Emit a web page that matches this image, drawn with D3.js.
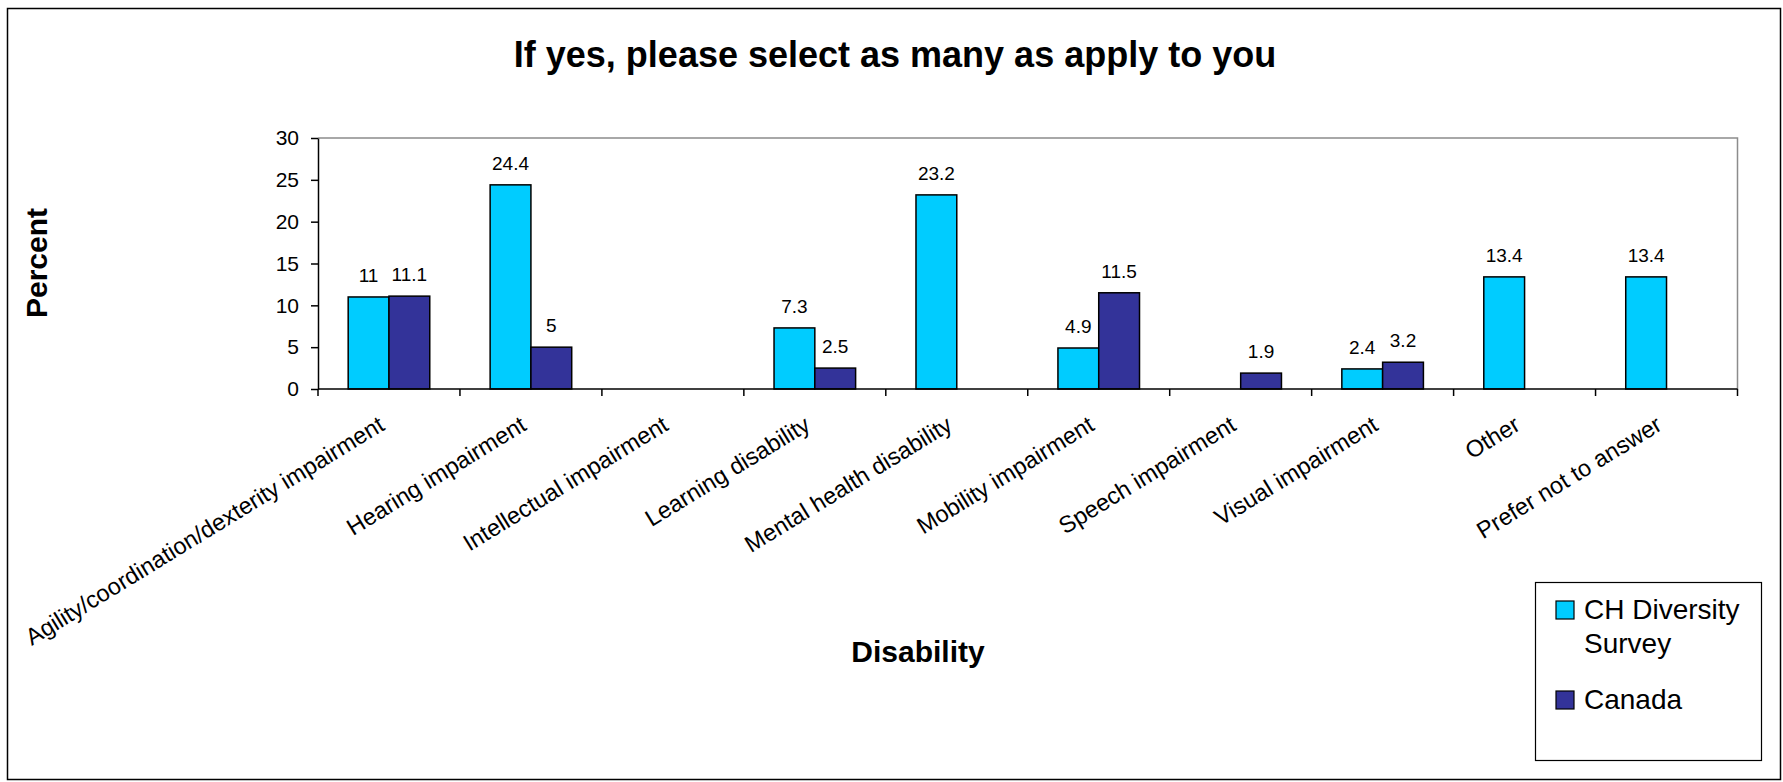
<!DOCTYPE html>
<html>
<head>
<meta charset="utf-8">
<script src="https://cdn.jsdelivr.net/npm/d3@7"></script>
<style>
  html, body { margin: 0; padding: 0; background: #fff; }
  svg { display: block; font-family: "Liberation Sans", Arial, sans-serif; }
</style>
</head>
<body>
<svg id="chart" width="1783" height="782"></svg>
<script>
// Disability categories and the percentages for each series (null = no response value)
const categories = [
  "Agility/coordination/dexterity impairment",
  "Hearing impairment",
  "Intellectual impairment",
  "Learning disability",
  "Mental health disability",
  "Mobility impairment",
  "Speech impairment",
  "Visual impairment",
  "Other",
  "Prefer not to answer"
];
const seriesNames = ["CH Diversity Survey", "Canada"];
const chSurvey = [11, 24.4, null, 7.3, 23.2, 4.9, null, 2.4, 13.4, 13.4];
const canada   = [11.1, 5, null, 2.5, null, 11.5, 1.9, 3.2, null, null];
const yTicks = [0, 5, 10, 15, 20, 25, 30];

const seriesValues = [chSurvey, canada];
const colors = ["#00CCFF", "#333399"];

const svg = d3.select("#chart");

// outer frame
svg.append("rect")
  .attr("x", 7.5).attr("y", 8.5)
  .attr("width", 1773).attr("height", 771)
  .attr("fill", "#fff").attr("stroke", "#000").attr("stroke-width", 1.5);

const plot = { left: 318, right: 1737.5, top: 138, bottom: 389 };

const x0 = d3.scaleBand()
  .domain(categories)
  .range([plot.left, plot.right])
  .paddingInner(0).paddingOuter(0);

const x1 = d3.scaleBand()
  .domain(seriesNames)
  .range([0, x0.bandwidth()])
  .paddingInner(0).paddingOuter(0.74);

const y = d3.scaleLinear().domain([0, 30]).range([plot.bottom, plot.top]);

// title
svg.append("text")
  .attr("x", 895).attr("y", 67)
  .attr("text-anchor", "middle")
  .attr("font-size", 36).attr("font-weight", "bold")
  .text("If yes, please select as many as apply to you");

// plot frame: grey top/right edges
svg.append("path")
  .attr("d", `M${plot.left},${plot.top}H${plot.right}V${plot.bottom}`)
  .attr("fill", "none").attr("stroke", "#8c8c8c").attr("stroke-width", 1.5);

// bars
seriesNames.forEach((s, si) => {
  const vals = seriesValues[si];
  const data = categories.map((c, i) => ({ c, v: vals[i] })).filter(d => d.v != null);
  const g = svg.append("g");
  g.selectAll("rect").data(data).join("rect")
    .attr("x", d => x0(d.c) + x1(s))
    .attr("y", d => y(d.v))
    .attr("width", x1.bandwidth())
    .attr("height", d => y(0) - y(d.v))
    .attr("fill", colors[si])
    .attr("stroke", "#000").attr("stroke-width", 1.5);
  g.selectAll("text").data(data).join("text")
    .attr("x", d => x0(d.c) + x1(s) + x1.bandwidth() / 2)
    .attr("y", d => y(d.v) - 15)
    .attr("text-anchor", "middle")
    .attr("font-size", 19)
    .text(d => d.v);
});

// y axis
const yAxis = svg.append("g")
  .attr("transform", `translate(${plot.left},0)`)
  .call(d3.axisLeft(y).tickValues(yTicks).tickSize(7).tickPadding(12).tickSizeOuter(0));
yAxis.select(".domain").attr("stroke", "#000").attr("stroke-width", 1.5);
yAxis.selectAll(".tick line").attr("stroke", "#000").attr("stroke-width", 1.5);
yAxis.selectAll(".tick text").attr("font-size", 21).attr("fill", "#000")
  .attr("font-family", "Liberation Sans, Arial, sans-serif");

// x axis with boundary ticks between categories
const xAxis = svg.append("g")
  .attr("transform", `translate(0,${plot.bottom})`);
xAxis.append("line")
  .attr("x1", plot.left).attr("x2", plot.right)
  .attr("stroke", "#000").attr("stroke-width", 1.5);
const boundaries = categories.map(c => x0(c)).concat([plot.right]);
xAxis.selectAll(".btick").data(boundaries).join("line")
  .attr("class", "btick")
  .attr("x1", d => d).attr("x2", d => d)
  .attr("y1", 0).attr("y2", 7)
  .attr("stroke", "#000").attr("stroke-width", 1.5);

// rotated category labels
xAxis.selectAll(".clabel").data(categories).join("text")
  .attr("class", "clabel")
  .attr("text-anchor", "end")
  .attr("font-size", 23.5)
  .attr("transform", d => `translate(${x0(d) + x0.bandwidth() / 2 - 3},${40}) rotate(-31.5)`)
  .text(d => d);

// axis titles
svg.append("text")
  .attr("x", 918).attr("y", 662)
  .attr("text-anchor", "middle")
  .attr("font-size", 30).attr("font-weight", "bold")
  .text("Disability");

svg.append("text")
  .attr("transform", `translate(47,263) rotate(-90)`)
  .attr("text-anchor", "middle")
  .attr("font-size", 30).attr("font-weight", "bold")
  .text("Percent");

// legend
const legend = svg.append("g");
legend.append("rect")
  .attr("x", 1535.5).attr("y", 582.5)
  .attr("width", 226).attr("height", 178)
  .attr("fill", "#fff").attr("stroke", "#000").attr("stroke-width", 1.2);

const legendRows = [
  { lines: ["CH Diversity", "Survey"], sy: 601 },
  { lines: ["Canada"], sy: 691 }
];
legendRows.forEach((r, i) => {
  legend.append("rect")
    .attr("x", 1556).attr("y", r.sy)
    .attr("width", 18).attr("height", 18)
    .attr("fill", colors[i]).attr("stroke", "#000").attr("stroke-width", 1.2);
  const t = legend.append("text")
    .attr("x", 1584).attr("y", r.sy + 18)
    .attr("font-size", 28);
  r.lines.forEach((ln, k) => {
    t.append("tspan").attr("x", 1584).attr("dy", k === 0 ? 0 : 34).text(ln);
  });
});
</script>
</body>
</html>
